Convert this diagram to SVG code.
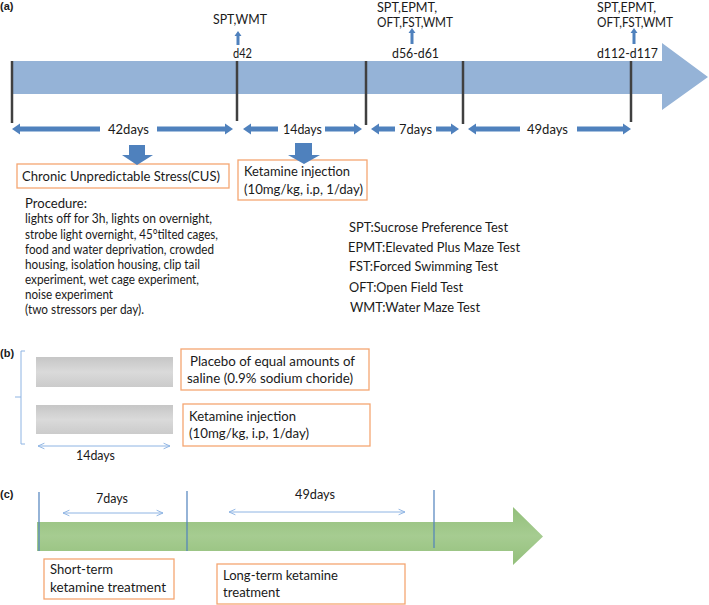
<svg xmlns="http://www.w3.org/2000/svg" width="709" height="605" viewBox="0 0 709 605">
<style>
text{font-family:Lato,"Open Sans","Liberation Sans",sans-serif;fill:#1a1a1a}
.t14{font-size:13px}
.t13{font-size:12.5px}
.lab{font-size:11px;font-weight:bold;font-family:"Liberation Sans",Arial,sans-serif}
.box{fill:#fff;stroke:#F4A672;stroke-width:1.3}
.blk{fill:#4F81BD}
.tick{stroke:#404040;stroke-width:2.5}
.thin{stroke:#8EB4E3;stroke-width:1;fill:none}
.vl{stroke:#4F81BD;stroke-width:1.2}
</style>
<defs>
<marker id="oh" viewBox="0 0 10 10" refX="9" refY="5" markerWidth="8" markerHeight="8" orient="auto-start-reverse" markerUnits="userSpaceOnUse">
<polyline points="1,1.5 9,5 1,8.5" fill="none" stroke="#8EB4E3" stroke-width="1.2"/>
</marker>
<linearGradient id="gg" x1="0" y1="0" x2="0" y2="1">
<stop offset="0" stop-color="#c6c6c6"/><stop offset="0.5" stop-color="#dadada"/><stop offset="1" stop-color="#cbcbcb"/>
</linearGradient>
<linearGradient id="gr" x1="0" y1="0" x2="0" y2="1">
<stop offset="0" stop-color="#93bf7b"/><stop offset="0.5" stop-color="#a6cc91"/><stop offset="1" stop-color="#93bf7b"/>
</linearGradient>
</defs>

<g id="panel-a">
<text class="lab" x="0" y="10">(a)</text>
<g id="timeline-a">
<path d="M12,61 L662,61 L662,43 L708,77 L662,110 L662,94 L12,94 Z" fill="#95B3D7"/>
</g>
<g id="ticks-a">
<line class="tick" x1="12" y1="61" x2="12" y2="123"/>
<line class="tick" x1="237" y1="61" x2="237" y2="121"/>
<line class="tick" x1="366" y1="61" x2="366" y2="125"/>
<line class="tick" x1="463" y1="61" x2="463" y2="124"/>
<line class="tick" x1="631" y1="61" x2="631" y2="122"/>
</g>
<g id="tests-d42">
<text class="t13" x="213" y="24" textLength="54" lengthAdjust="spacingAndGlyphs">SPT,WMT</text>
<text class="t13" x="233" y="58" textLength="19" lengthAdjust="spacingAndGlyphs">d42</text>
</g>
<g id="tests-d56">
<text class="t13" x="377" y="12" textLength="60" lengthAdjust="spacingAndGlyphs">SPT,EPMT,</text>
<text class="t13" x="377" y="27" textLength="76" lengthAdjust="spacingAndGlyphs">OFT,FST,WMT</text>
<text class="t13" x="392" y="58" textLength="47" lengthAdjust="spacingAndGlyphs">d56-d61</text>
</g>
<g id="tests-d112">
<text class="t13" x="597" y="12" textLength="59" lengthAdjust="spacingAndGlyphs">SPT,EPMT,</text>
<text class="t13" x="597" y="27" textLength="76" lengthAdjust="spacingAndGlyphs">OFT,FST,WMT</text>
<text class="t13" x="597" y="58" textLength="61" lengthAdjust="spacingAndGlyphs">d112-d117</text>
</g>
<g id="durations-a">
<text class="t13" x="108" y="134" textLength="41" lengthAdjust="spacingAndGlyphs">42days</text>
<text class="t13" x="283" y="134" textLength="39" lengthAdjust="spacingAndGlyphs">14days</text>
<text class="t13" x="399" y="134" textLength="33" lengthAdjust="spacingAndGlyphs">7days</text>
<text class="t13" x="527" y="134" textLength="41" lengthAdjust="spacingAndGlyphs">49days</text>
</g>
<g id="cus-box">
<rect class="box" x="17" y="164" width="212" height="24"/>
<text class="t14" x="22" y="181" textLength="198" lengthAdjust="spacingAndGlyphs">Chronic Unpredictable Stress(CUS)</text>
</g>
<g id="ketamine-box-a">
<rect class="box" x="238" y="160" width="129" height="40"/>
<text class="t14" x="244" y="176" textLength="106" lengthAdjust="spacingAndGlyphs">Ketamine injection</text>
<text class="t14" x="244" y="194" textLength="119" lengthAdjust="spacingAndGlyphs">(10mg/kg, i.p, 1/day)</text>
</g>
<g id="procedure">
<text class="t14" x="25" y="208" textLength="62" lengthAdjust="spacingAndGlyphs">Procedure:</text>
<text class="t13" x="25" y="223" textLength="187" lengthAdjust="spacingAndGlyphs">lights off for 3h, lights on overnight,</text>
<text class="t13" x="25" y="239" textLength="193" lengthAdjust="spacingAndGlyphs">strobe light overnight, 45°tilted cages,</text>
<text class="t13" x="25" y="254" textLength="189" lengthAdjust="spacingAndGlyphs">food and water deprivation, crowded</text>
<text class="t13" x="25" y="269" textLength="175" lengthAdjust="spacingAndGlyphs">housing, isolation housing, clip tail</text>
<text class="t13" x="25" y="284" textLength="174" lengthAdjust="spacingAndGlyphs">experiment, wet cage experiment,</text>
<text class="t13" x="25" y="299" textLength="88" lengthAdjust="spacingAndGlyphs">noise experiment</text>
<text class="t13" x="25" y="314" textLength="119" lengthAdjust="spacingAndGlyphs">(two stressors per day).</text>
</g>
<g id="legend">
<text class="t13" x="349" y="232" textLength="159" lengthAdjust="spacingAndGlyphs">SPT:Sucrose Preference Test</text>
<text class="t13" x="348" y="252" textLength="172" lengthAdjust="spacingAndGlyphs">EPMT:Elevated Plus Maze Test</text>
<text class="t13" x="349" y="271" textLength="149" lengthAdjust="spacingAndGlyphs">FST:Forced Swimming Test</text>
<text class="t13" x="349" y="292" textLength="114" lengthAdjust="spacingAndGlyphs">OFT:Open Field Test</text>
<text class="t13" x="350" y="312" textLength="130" lengthAdjust="spacingAndGlyphs">WMT:Water Maze Test</text>
</g>
</g>

<g id="panel-b">
<text class="lab" x="0" y="357">(b)</text>
<g id="bar-placebo"><rect x="36" y="357" width="137" height="30" fill="url(#gg)"/></g>
<g id="bar-ketamine"><rect x="36" y="405" width="137" height="29" fill="url(#gg)"/></g>
<g id="placebo-box">
<rect class="box" x="181" y="349" width="188" height="41"/>
<text class="t14" x="190" y="366" textLength="165" lengthAdjust="spacingAndGlyphs">Placebo of equal amounts of</text>
<text class="t14" x="187" y="383" textLength="166" lengthAdjust="spacingAndGlyphs">saline (0.9% sodium choride)</text>
</g>
<g id="ketamine-box-b">
<rect class="box" x="183" y="404" width="187" height="42"/>
<text class="t14" x="189" y="421" textLength="107" lengthAdjust="spacingAndGlyphs">Ketamine injection</text>
<text class="t14" x="189" y="438" textLength="120" lengthAdjust="spacingAndGlyphs">(10mg/kg, i.p, 1/day)</text>
</g>
<text class="t13" x="76" y="460" textLength="39" lengthAdjust="spacingAndGlyphs">14days</text>
</g>

<g id="panel-c">
<text class="lab" x="0" y="498">(c)</text>
<g id="timeline-c">
<path d="M37,522 L513,522 L513,507 L543,536.5 L513,565 L513,551 L37,551 Z" fill="url(#gr)"/>
</g>
<g id="short-term-box">
<rect class="box" x="44" y="559" width="130" height="40"/>
<text class="t14" x="50" y="574" textLength="63" lengthAdjust="spacingAndGlyphs">Short-term</text>
<text class="t14" x="50" y="592" textLength="116" lengthAdjust="spacingAndGlyphs">ketamine treatment</text>
</g>
<g id="long-term-box">
<rect class="box" x="217" y="564" width="188" height="40"/>
<text class="t14" x="223" y="580" textLength="115" lengthAdjust="spacingAndGlyphs">Long-term ketamine</text>
<text class="t14" x="223" y="597" textLength="57" lengthAdjust="spacingAndGlyphs">treatment</text>
</g>
<text class="t13" x="96" y="503" textLength="32" lengthAdjust="spacingAndGlyphs">7days</text>
<text class="t13" x="295" y="499" textLength="40" lengthAdjust="spacingAndGlyphs">49days</text>
</g>

<g id="connectors">
<g class="blk">
<path d="M12,129 L20,123.5 L20,126.5 L100,126.5 L100,131.5 L20,131.5 L20,134.5 Z"/>
<path d="M233,129 L225,123.5 L225,126.5 L157,126.5 L157,131.5 L225,131.5 L225,134.5 Z"/>
<path d="M243,129 L251,123.5 L251,126.5 L278,126.5 L278,131.5 L251,131.5 L251,134.5 Z"/>
<path d="M362,129 L354,123.5 L354,126.5 L325,126.5 L325,131.5 L354,131.5 L354,134.5 Z"/>
<path d="M371,129 L379,123.5 L379,126.5 L395,126.5 L395,131.5 L379,131.5 L379,134.5 Z"/>
<path d="M459,129 L451,123.5 L451,126.5 L436,126.5 L436,131.5 L451,131.5 L451,134.5 Z"/>
<path d="M468,129 L476,123.5 L476,126.5 L520,126.5 L520,131.5 L476,131.5 L476,134.5 Z"/>
<path d="M631,129 L623,123.5 L623,126.5 L577,126.5 L577,131.5 L623,131.5 L623,134.5 Z"/>
<path d="M238,31 L241.5,36 L239.5,36 L239.5,45 L236.5,45 L236.5,36 L234.5,36 Z"/>
<path d="M412,28 L415.5,33 L413.5,33 L413.5,44 L410.5,44 L410.5,33 L408.5,33 Z"/>
<path d="M634,28 L637.5,33 L635.5,33 L635.5,44 L632.5,44 L632.5,33 L630.5,33 Z"/>
<path d="M129,145 L145,145 L145,155 L153,155 L137,165 L122,155 L129,155 Z"/>
<path d="M295,143 L312,143 L312,155 L320,155 L304,164 L288,155 L295,155 Z"/>
</g>
<path class="thin" d="M25,351 L21,351 L21,444 L25,444 M21,397 L15,397"/>
<line class="thin" x1="38" y1="446" x2="170" y2="446" marker-start="url(#oh)" marker-end="url(#oh)"/>
<line class="thin" x1="63" y1="513" x2="163" y2="513" marker-start="url(#oh)" marker-end="url(#oh)"/>
<line class="thin" x1="229" y1="512" x2="405" y2="512" marker-start="url(#oh)" marker-end="url(#oh)"/>
<line class="vl" x1="39" y1="492" x2="39" y2="551"/>
<line class="vl" x1="187" y1="491" x2="187" y2="551"/>
<line class="vl" x1="434" y1="490" x2="434" y2="548"/>
</g>
</svg>
